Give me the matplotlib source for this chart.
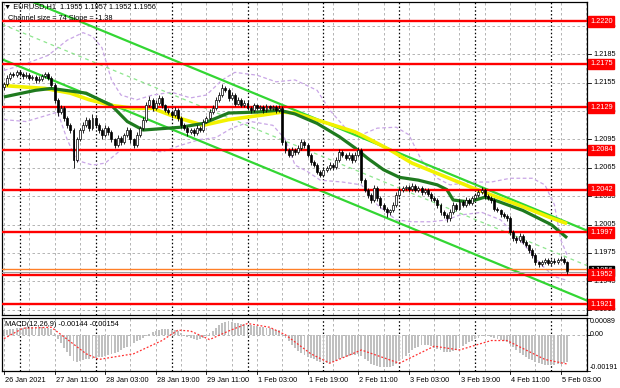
import matplotlib
matplotlib.use('Agg')
import matplotlib.pyplot as plt
import numpy as np
from matplotlib.transforms import blended_transform_factory

# ---------------- data ----------------
first_open = 1.2150
closes = [
    1.2154, 1.2160, 1.2164, 1.2163, 1.2166, 1.2164, 1.2162, 1.2163, 1.2160, 1.2161,
    1.2158, 1.2159, 1.2162, 1.2164, 1.2160, 1.2153, 1.2137, 1.2124, 1.2128, 1.2118,
    1.2110, 1.2105, 1.2073, 1.2095, 1.2105, 1.2110, 1.2116, 1.2107, 1.2118, 1.2110,
    1.2105, 1.2100, 1.2107, 1.2103, 1.2095, 1.2089, 1.2097, 1.2092, 1.2100, 1.2105,
    1.2095, 1.2089, 1.2100, 1.2107, 1.2116, 1.2131, 1.2137, 1.2128, 1.2134, 1.2139,
    1.2131, 1.2126, 1.2124, 1.2121, 1.2126, 1.2118, 1.2110, 1.2107, 1.2103, 1.2105,
    1.2102, 1.2107, 1.2105, 1.2114, 1.2118, 1.2124, 1.2128, 1.2137, 1.2142, 1.2149,
    1.2147, 1.2139, 1.2142, 1.2133, 1.2137, 1.2131, 1.2134, 1.2128, 1.2126, 1.2131,
    1.2128, 1.2129, 1.2126, 1.2130, 1.2128, 1.2129, 1.2126, 1.2128, 1.2092, 1.2084,
    1.2079, 1.2084, 1.2082, 1.2086, 1.2092, 1.2089, 1.2079, 1.2071, 1.2068, 1.2061,
    1.2057, 1.2063, 1.2065, 1.2068, 1.2066, 1.2073, 1.2082, 1.2079, 1.2075, 1.2079,
    1.2073, 1.2079, 1.2084, 1.2052, 1.2042, 1.2036, 1.2031, 1.2044, 1.2033, 1.2026,
    1.2022, 1.2018, 1.2020, 1.2026, 1.2036, 1.2042, 1.2044, 1.2045, 1.2043, 1.2046,
    1.2042, 1.2044, 1.2039, 1.2042, 1.2037, 1.2033, 1.2031, 1.2026, 1.2018, 1.2015,
    1.2012, 1.2018, 1.2026, 1.2022, 1.2029, 1.2026, 1.2031, 1.2028, 1.2033, 1.2036,
    1.2039, 1.2042, 1.2035, 1.2033, 1.2031, 1.2022, 1.2020, 1.2016, 1.2014, 1.2012,
    1.1997, 1.1991, 1.1989, 1.1993, 1.1987, 1.1983, 1.1978, 1.1973, 1.1965, 1.1963,
    1.1965, 1.1968, 1.1964, 1.1967, 1.1965, 1.1968, 1.1969, 1.1965, 1.1956,
]
# wick lengths in pips above / below the body
up_wick = [
    2, 3, 2, 2, 3, 2, 2, 3, 2, 2, 2, 3, 2, 2, 2, 2, 2, 2, 3, 2,
    2, 2, 2, 3, 2, 3, 3, 2, 4, 2, 2, 2, 3, 2, 2, 2, 3, 2, 2, 3,
    2, 2, 3, 2, 3, 4, 4, 2, 3, 3, 2, 2, 2, 2, 3, 2, 2, 2, 2, 2,
    2, 3, 2, 3, 2, 3, 3, 3, 3, 5, 3, 2, 3, 2, 3, 2, 3, 2, 2, 3,
    2, 2, 2, 3, 2, 2, 2, 3, 2, 2, 2, 3, 2, 3, 3, 2, 2, 2, 2, 2,
    2, 3, 2, 3, 2, 3, 3, 2, 2, 3, 2, 3, 3, 2, 2, 2, 2, 3, 2, 2,
    2, 2, 2, 3, 3, 3, 2, 2, 2, 3, 2, 2, 2, 2, 2, 2, 2, 2, 2, 2,
    2, 3, 3, 2, 3, 2, 3, 2, 2, 2, 3, 3, 2, 2, 2, 2, 2, 2, 2, 2,
    2, 2, 2, 3, 2, 2, 2, 2, 2, 2, 3, 2, 2, 2, 3, 2, 3, 2, 2,
]
dn_wick = [
    3, 2, 2, 2, 2, 2, 3, 2, 2, 2, 3, 2, 2, 2, 2, 3, 3, 4, 2, 3,
    3, 3, 8, 2, 2, 3, 2, 3, 2, 3, 3, 4, 2, 3, 3, 3, 2, 3, 2, 2,
    4, 3, 2, 2, 2, 2, 2, 3, 2, 2, 3, 2, 2, 3, 2, 3, 3, 2, 4, 2,
    3, 2, 2, 2, 2, 2, 2, 2, 2, 2, 2, 3, 2, 3, 2, 2, 2, 2, 3, 2,
    2, 2, 3, 2, 2, 2, 3, 2, 3, 3, 3, 2, 3, 2, 2, 3, 2, 3, 2, 3,
    2, 2, 2, 2, 3, 2, 2, 3, 2, 2, 3, 2, 2, 3, 3, 3, 3, 2, 3, 3,
    3, 5, 3, 2, 2, 2, 2, 2, 3, 2, 2, 2, 3, 2, 2, 3, 2, 3, 3, 3,
    4, 3, 2, 3, 2, 2, 2, 2, 2, 2, 2, 2, 3, 2, 3, 3, 2, 3, 2, 3,
    3, 3, 3, 2, 3, 2, 3, 3, 3, 3, 2, 2, 2, 2, 2, 2, 2, 2, 3,
]

levels = [1.2220, 1.2175, 1.2129, 1.2084, 1.2042, 1.1997, 1.1952, 1.1921]
price_ticks = [1.2215, 1.2185, 1.2155, 1.2125, 1.2095, 1.2065, 1.2035, 1.2005,
               1.1975, 1.1945, 1.1915]
bid_price = 1.1956
ask_price = 1.1958

# equidistant channel: middle price at bar 0, slope per bar, half width
chan_start = 1.2216
chan_slope = -0.000138
chan_half = 0.0037

# moving averages (bar index, price)
ma_slow_bars = [0, 13, 21, 27, 34, 41, 47, 54, 63, 71, 82, 88, 92, 111, 114, 122,
                129, 140, 148, 152, 164, 173, 178]
ma_slow_vals = [1.2152, 1.2149, 1.2144, 1.2137, 1.2131, 1.2128, 1.2128, 1.2119,
                1.2110, 1.2116, 1.2121, 1.2124, 1.2123, 1.2103, 1.2098, 1.2084,
                1.2070, 1.2055, 1.2044, 1.2039, 1.2024, 1.2012, 1.2006]
ma_fast_bars = [0, 10, 15, 26, 34, 39, 44, 56, 63, 71, 80, 87, 92, 99, 106, 111,
                115, 120, 125, 131, 137, 140, 142, 147, 152, 155, 164, 173, 178]
ma_fast_vals = [1.2140, 1.2147, 1.2149, 1.2144, 1.2131, 1.2114, 1.2105, 1.2108,
                1.2112, 1.2123, 1.2124, 1.2126, 1.2122, 1.2112, 1.2098, 1.2086,
                1.2075, 1.2063, 1.2055, 1.2052, 1.2047, 1.2042, 1.2031, 1.2029,
                1.2034, 1.2031, 1.2020, 1.2005, 1.1991]

# bands
band_up_bars = [0, 6, 14, 20, 25, 28, 31, 34, 37, 42, 47, 53, 59, 64, 69, 73, 80,
                86, 92, 99, 103, 108, 113, 118, 124, 128, 132, 137, 141, 148, 154,
                160, 167, 171, 174, 176, 178]
band_up_vals = [1.2168, 1.2174, 1.2184, 1.2200, 1.2208, 1.2204, 1.2192, 1.2158,
                1.2142, 1.2137, 1.2142, 1.2145, 1.2139, 1.2142, 1.2158, 1.2166,
                1.2163, 1.2156, 1.2158, 1.2147, 1.2126, 1.2107, 1.2100, 1.2107,
                1.2108, 1.2100, 1.2073, 1.2054, 1.2047, 1.2050, 1.2050, 1.2054,
                1.2054, 1.2047, 1.2026, 1.1989, 1.1973]
band_dn_bars = [0, 7, 14, 17, 20, 23, 28, 32, 37, 44, 50, 56, 62, 67, 72, 78, 85,
                89, 92, 96, 100, 107, 113, 118, 124, 129, 135, 140, 144, 151, 157,
                163, 170, 174, 178]
band_dn_vals = [1.2116, 1.2114, 1.2121, 1.2124, 1.2095, 1.2073, 1.2068, 1.2070,
                1.2084, 1.2084, 1.2082, 1.2089, 1.2095, 1.2097, 1.2107, 1.2114,
                1.2110, 1.2095, 1.2068, 1.2061, 1.2052, 1.2050, 1.2047, 1.2026,
                1.2010, 1.2008, 1.2008, 1.2010, 1.2015, 1.2018, 1.2010, 1.1989,
                1.1962, 1.1950, 1.1946]

# MACD histogram (x 1e-5) per bar and signal line samples
macd_hist = [
    25, 28, 30, 32, 35, 37, 38, 40, 40, 42, 42, 40, 40, 38, 35, 30,
    10, -20, -45, -70, -90, -110, -140, -145, -140,
    -135, -130, -128, -125, -122, -118, -115, -110, -105, -100, -95, -88, -80, -72,
    -65, -55, -45, -35, -25, -15, -5,
    5, 15, 22, 28, 30, 32, 30, 28, 25, 20,
    10, 0, -10, -18, -22, -25, -22, -15, -5, 8,
    20, 35, 50, 62, 70, 72, 70,
    65, 60, 58, 55, 52, 50, 48, 45, 42, 40, 38, 35, 32, 28, 25,
    5, -15, -35, -55, -70, -85, -95, -105, -115, -122,
    -130, -138, -145, -150, -150, -148, -145, -140, -130, -122, -118, -112, -108,
    -105, -100,
    -110, -125, -140, -152, -160, -165, -170, -172, -172, -170, -165, -155,
    -140, -125, -110, -95, -82, -70, -62, -55, -52,
    -55, -60, -68, -75, -82, -88, -92, -90, -85, -78, -70,
    -60, -50, -40, -30, -22, -15, -8, -5,
    -8, -12, -15, -20, -25, -30, -38, -50,
    -65, -80, -95, -105, -115, -125, -135, -145, -150, -155,
    -158, -160, -160, -158, -155, -152, -150, -144,
]
signal_bars = [0, 6, 15, 26, 30, 41, 50, 55, 59, 65, 71, 77, 84, 89, 97, 103, 113,
               125, 136, 144, 154, 159, 171, 178]
signal_vals = [-20, 35, 40, -100, -130, -100, -30, 25, 20, -25, 20, 60, 40, 0,
               -100, -150, -80, -150, -60, -80, -30, -30, -130, -154]
macd_top, macd_bottom = 0.00089, -0.00191

time_labels = ["26 Jan 2021", "27 Jan 11:00", "28 Jan 03:00", "28 Jan 19:00",
               "29 Jan 11:00", "1 Feb 03:00", "1 Feb 19:00", "2 Feb 11:00",
               "3 Feb 03:00", "3 Feb 19:00", "4 Feb 11:00", "5 Feb 03:00"]
label_step = 16
day_starts = [5, 29, 53, 77, 101, 125, 149, 173]

# ---------------- figure ----------------
FONT = ['Liberation Sans', 'DejaVu Sans']
plt.rcParams['font.family'] = FONT
FS = 5.3

fig = plt.figure(figsize=(6.2, 3.88), dpi=100)
fig.patch.set_facecolor('white')

def fx(px):
    return px / 620.0

def fy(py):
    return 1 - py / 388.0

ax = fig.add_axes([fx(2), fy(315), fx(587) - fx(2), fy(2) - fy(315)])
ax2 = fig.add_axes([fx(2), fy(371), fx(587) - fx(2), fy(318) - fy(371)])
XL = (-0.6, 184.3)
for a in (ax, ax2):
    a.set_xlim(*XL)
    a.set_xticks([])
    a.set_yticks([])
    for s in a.spines.values():
        s.set_color('black')
        s.set_linewidth(0.9)
ax.set_ylim(1.19094, 1.22404)
ax2.set_ylim(macd_bottom, macd_top)

grid_kw = dict(color='#A8A8A8', lw=0.6, ls=(0, (3, 3)), zorder=0.5)
for a in (ax, ax2):
    for b in range(0, 185, 8):
        a.axvline(b, **grid_kw)
    for b in day_starts:
        a.axvline(b, color='black', lw=0.9, ls=(0, (1.2, 1.8)), zorder=0.6)
for p in price_ticks:
    ax.axhline(p, **grid_kw)
ax2.axhline(0.0, **grid_kw)

# bands
ax.plot(band_up_bars, band_up_vals, color='#C9A6E6', lw=0.9, ls=(0, (3, 2)), zorder=1)
ax.plot(band_dn_bars, band_dn_vals, color='#C9A6E6', lw=0.9, ls=(0, (3, 2)), zorder=1)

# channel
xs = np.array(XL)
mid = chan_start + chan_slope * xs
ax.plot(xs, mid, color='#8EE68E', lw=0.9, ls=(0, (3, 3)), zorder=2)
ax.plot(xs, mid + chan_half, color='#33D633', lw=1.6, zorder=2)
ax.plot(xs, mid - chan_half, color='#33D633', lw=1.6, zorder=2)

# moving averages
ax.plot(ma_slow_bars, ma_slow_vals, color='#F2F200', lw=2.6, zorder=3,
        solid_capstyle='butt')
ax.plot(ma_fast_bars, ma_fast_vals, color='#1F7A1F', lw=2.3, zorder=3.1,
        solid_capstyle='butt')

# levels
for lv in levels:
    ax.axhline(lv, color='#FF0000', lw=1.7, zorder=3.5)
ax.axhline(ask_price, color='#FF7F27', lw=1.0, zorder=3.5)
ax.axhline(bid_price - 0.0001, color='#A0A0A0', lw=0.8, zorder=3.4)

# candles
closes_a = np.array(closes)
opens_a = np.concatenate([[first_open], closes_a[:-1]])
idx = np.arange(len(closes_a))
top = np.maximum(opens_a, closes_a)
bot = np.minimum(opens_a, closes_a)
highs = top + np.array(up_wick) * 0.0001
lows = bot - np.array(dn_wick) * 0.0001
ax.vlines(idx, lows, highs, color='black', lw=0.6, zorder=4)
heights = np.maximum(top - bot, 0.00004)
bull = closes_a >= opens_a
ax.bar(idx[bull], heights[bull], bottom=bot[bull], width=0.62,
       facecolor='white', edgecolor='black', lw=0.5, zorder=4.2)
ax.bar(idx[~bull], heights[~bull], bottom=bot[~bull], width=0.62,
       facecolor='black', edgecolor='black', lw=0.5, zorder=4.2)

# right price scale
trans = blended_transform_factory(ax.transAxes, ax.transData)
for p in price_ticks:
    ax.plot([1.0, 1.0 + 4 / 585], [p, p], color='black', lw=0.6,
            transform=trans, clip_on=False)
    ax.text(1.0 + 6 / 585, p, f"{p:.4f}", transform=trans, fontsize=FS,
            va='center', ha='left', color='black', zorder=5, clip_on=False)
ax.text(1.0 + 3 / 585, bid_price, f"{bid_price:.4f}", transform=trans,
        fontsize=FS, va='center', ha='left', color='white', zorder=6,
        clip_on=False,
        bbox=dict(boxstyle='square,pad=0.15', fc='black', ec='black'))
for lv in levels:
    ax.text(1.0 + 3 / 585, lv, f"{lv:.4f}", transform=trans, fontsize=FS,
            va='center', ha='left', color='white', zorder=7, clip_on=False,
            bbox=dict(boxstyle='square,pad=0.25', fc='#FF0000', ec='#FF0000'))

# MACD
hist = np.array(macd_hist) * 1e-5
ax2.bar(idx, hist, width=0.6, color='#C0C0C0', zorder=2)
ax2.plot(signal_bars, np.array(signal_vals) * 1e-5, color='#FF3030', lw=0.9,
         ls=(0, (1.5, 1.5)), zorder=3)
trans2 = blended_transform_factory(ax2.transAxes, ax2.transData)
for v, txt, va in [(macd_top, f"{macd_top:.5f}", 'top'), (0.0, "0.00", 'center'),
                   (macd_bottom, f"{macd_bottom:.5f}", 'bottom')]:
    ax2.plot([1.0, 1.0 + 3 / 585], [v, v], color='black', lw=0.6,
             transform=trans2, clip_on=False)
    ax2.text(1.0 + 3 / 585, v, txt, transform=trans2, fontsize=5.1,
             va=va, ha='left', clip_on=False)
ax2.text(3 / 585, 0.88, "MACD(12,26,9) -0.00144 -0.00154", transform=ax2.transAxes,
         fontsize=FS, va='center', ha='left', zorder=6)

# titles
fig.text(fx(4), fy(7), "\u25bc EURUSD,H1  1.1955 1.1957 1.1952 1.1956",
         fontsize=FS, va='center', ha='left', color='black')
fig.text(fx(8), fy(18), "Channel size = 74 Slope = -1.38", fontsize=FS,
         va='center', ha='left', color='black')

# time axis
trans3 = blended_transform_factory(ax2.transData, fig.transFigure)
for k, lab in enumerate(time_labels):
    b = k * label_step
    ax2.plot([b, b], [fy(371), fy(374)], color='black', lw=0.6,
             transform=trans3, clip_on=False)
    ax2.text(b + 0.35, fy(380.5), lab, transform=trans3, fontsize=FS,
             va='center', ha='left', clip_on=False)

fig.savefig('out.png', dpi=100, facecolor='white')
